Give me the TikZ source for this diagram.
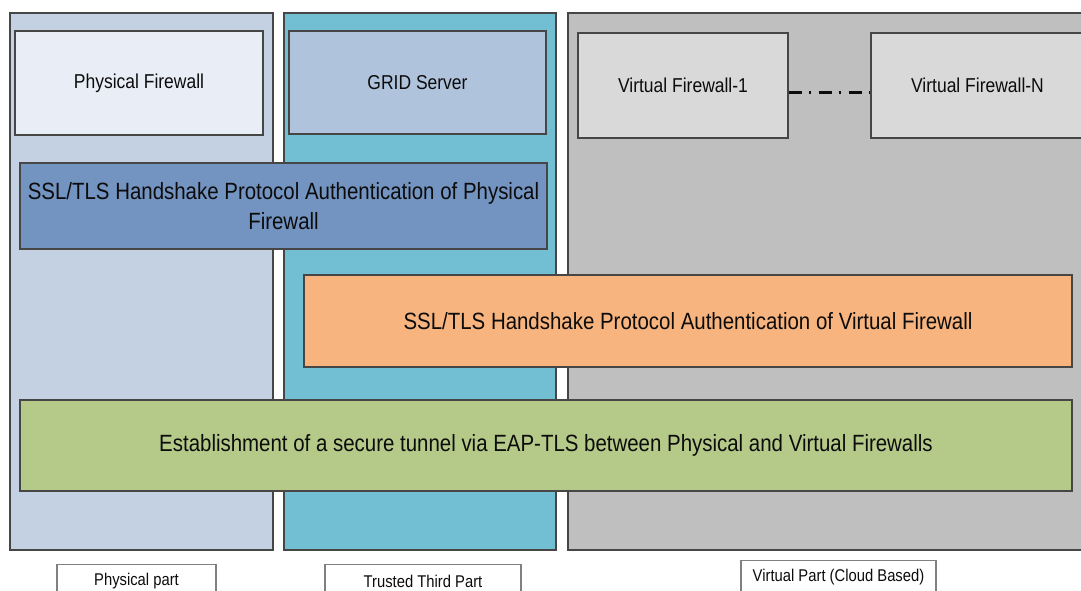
\documentclass[tikz,border=0pt]{standalone}
\usepackage{fontspec}
\setmainfont{Liberation Sans}[FakeStretch=0.87]
\definecolor{physcolc}{RGB}{195,209,227}
\definecolor{pfc}{RGB}{233,238,246}
\definecolor{trustc}{RGB}{114,191,212}
\definecolor{gridc}{RGB}{176,195,220}
\definecolor{virtc}{RGB}{191,191,191}
\definecolor{vfc}{RGB}{217,217,217}
\definecolor{sslpc}{RGB}{115,148,193}
\definecolor{orangec}{RGB}{248,180,126}
\definecolor{greenc}{RGB}{181,202,136}
\definecolor{edgec}{RGB}{70,70,70}
\definecolor{txtc}{RGB}{12,12,12}
\begin{document}
\begin{tikzpicture}[x=1pt,y=-1pt,
  column/.style={draw=edgec,line width=1.4pt,inner sep=0pt},
  box/.style={draw=edgec,line width=1.4pt,inner sep=0pt,text=txtc,font=\fontsize{20.1}{24}\selectfont},
  bigbox/.style={draw=edgec,line width=1.4pt,inner sep=0pt,text=txtc,align=center,font=\fontsize{23.5}{30}\selectfont},
  labelbox/.style={draw=gray,fill=white,line width=1.2pt,inner sep=0pt,text=txtc,font=\fontsize{17}{20}\selectfont},
  link/.style={draw=txtc,line width=3pt,dash pattern=on 13pt off 7pt on 2pt off 8pt}]
\clip (0,0) rectangle (1081,590);
\fill[white] (0,0) rectangle (1081,590);
% columns
\node[column,fill=physcolc,minimum width=263pt,minimum height=537pt] (physcol) at (141.5,281.5) {};
\node[column,fill=trustc,minimum width=272pt,minimum height=537pt] (trustcol) at (420,281.5) {};
\node[column,fill=virtc,minimum width=532pt,minimum height=537pt] (virtcol) at (834,281.5) {};
% top boxes
\node[box,fill=pfc,minimum width=248pt,minimum height=104pt] (pf) at (139,83) {Physical Firewall};
\node[box,fill=gridc,minimum width=257pt,minimum height=103pt] (grid) at (417.5,82.5) {GRID Server};
\node[box,fill=vfc,minimum width=210pt,minimum height=105pt] (vf1) at (683,85.5) {Virtual Firewall-1};
\node[box,fill=vfc,minimum width=213pt,minimum height=105pt] (vfn) at (977.5,85.5) {Virtual Firewall-N};
\draw[link] ([yshift=-6.5pt]vf1.east) -- ([yshift=-6.5pt]vfn.west);
% protocol boxes
\node[bigbox,fill=sslpc,minimum width=527pt,minimum height=86pt] (sslp) at (283.5,206) {SSL/TLS Handshake Protocol Authentication of Physical\\Firewall};
\node[bigbox,fill=orangec,minimum width=768pt,minimum height=92pt] (sslv) at (688,321) {SSL/TLS Handshake Protocol Authentication of Virtual Firewall};
\node[bigbox,fill=greenc,minimum width=1052pt,minimum height=91pt] (tunnel) at (546,445.5) {Establishment of a secure tunnel via EAP-TLS between Physical and Virtual Firewalls};
% labels
\node[labelbox,minimum width=159pt,minimum height=34pt] (physlab) at (136.5,581.5) {Physical part};
\node[labelbox,minimum width=196pt,minimum height=34pt] (trustlab) at (423,581.5) {Trusted Third Part};
\node[labelbox,minimum width=195pt,minimum height=34pt] (virtlab) at (838.5,577.5) {Virtual Part (Cloud Based)};
\end{tikzpicture}
\end{document}
